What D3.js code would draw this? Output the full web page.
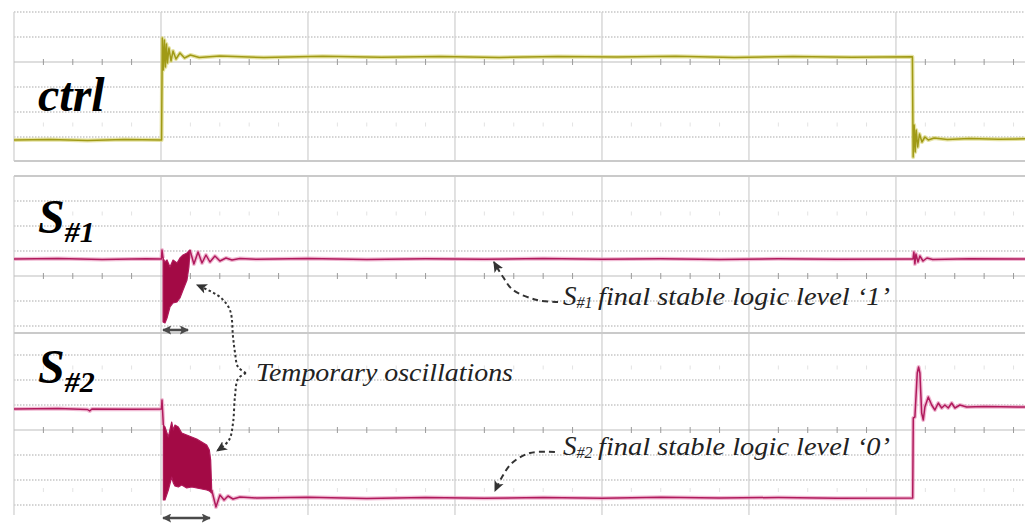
<!DOCTYPE html>
<html>
<head>
<meta charset="utf-8">
<script src="https://cdn.jsdelivr.net/npm/d3@7"></script>
<style>
  body { margin: 0; background: #fff; }
  svg { display: block; }
</style>
</head>
<body>
<div id="chart"></div>
<script>
// time: one screen division = 100 units, amplitude: 1 unit = 1 division
const timeGrid = [0, 100, 200, 300, 400, 500, 600];

const ctrlWave = [
  [0, -3.12], [25, -3.1], [50, -3.14], [75, -3.1], [100.4, -3.12],
  [100.9, 0.96], [101.6, -0.32], [102.3, 0.88], [103.0, -0.2], [103.7, 0.72], [104.4, -0.04],
  [105.4, 0.56], [106.8, 0.04], [108.2, 0.44], [110.2, 0.12], [112.9, 0.36], [116, 0.16],
  [120, 0.28], [126, 0.18], [140, 0.24], [170, 0.18], [210, 0.23], [250, 0.19], [290, 0.22],
  [330, 0.18], [370, 0.22], [410, 0.2], [450, 0.23], [490, 0.18], [530, 0.22], [570, 0.19],
  [611.2, 0.21],
  [611.7, -3.8], [612.4, -2.52], [613.1, -3.6], [613.8, -2.72], [614.8, -3.4], [616.0, -2.88],
  [617.7, -3.2], [619.7, -3.0], [622, -3.12], [626, -3.04], [635, -3.1], [650, -3.06],
  [670, -3.09], [687.8, -3.07]
];

const s1Wave = [
  [0, 0.68], [30, 0.7], [60, 0.66], [90, 0.69], [100.3, 0.68], [100.7, 1.04], [101.4, 0.72],
  [110, null],
  [119.7, 1.04], [122.4, 0.48], [125.2, 0.96], [127.9, 0.52], [130.6, 0.84], [133.3, 0.56],
  [136.7, 0.8], [140.1, 0.6], [144.2, 0.72], [148.3, 0.64], [153.7, 0.7], [165, 0.67],
  [200, 0.7], [240, 0.66], [280, 0.69], [320, 0.67], [360, 0.7], [400, 0.67], [440, 0.69],
  [480, 0.66], [520, 0.69], [560, 0.67], [611, 0.68],
  [611.6, 0.68], [612.2, 0.96], [612.9, 0.48], [613.6, 0.88], [615.0, 0.56], [616.3, 0.8],
  [618.4, 0.6], [621.1, 0.72], [625, 0.66], [650, 0.69], [687.8, 0.68]
];

// [time, upper envelope, lower envelope]
const s1Burst = [
  [101.4, 0.72, -1.84], [102.7, 0.56, -1.88], [104.1, 0.64, -1.68], [106.1, 0.36, -1.24],
  [108.2, 0.64, -1.08], [110.9, 0.52, -1.04], [112.9, 0.72, -0.88], [115.0, 0.84, -0.56],
  [117.7, 0.92, -0.16], [119.0, 1.0, 0.36], [119.7, 1.04, 0.96]
];

const s2Wave = [
  [0, 0.84], [30, 0.86], [50, 0.82], [51.5, 0.76], [53, 0.84], [80, 0.83], [100.3, 0.84],
  [100.7, 1.2], [101.6, 0.2],
  [120, null],
  [134.5, -2.4], [137.4, -3.08], [140.1, -2.6], [142.9, -2.8], [145.6, -2.64], [149.0, -2.76],
  [153.7, -2.68], [165, -2.72], [200, -2.69], [240, -2.74], [280, -2.7], [320, -2.73],
  [360, -2.7], [400, -2.73], [440, -2.69], [480, -2.72], [520, -2.7], [560, -2.73], [611.4, -2.72],
  [611.8, 0.48], [612.9, 0.52], [614.5, 2.28], [615.4, 2.52], [616.3, 2.28], [617.5, 0.68],
  [618.6, 0.4], [619.7, 0.92], [622.0, 1.32], [624.3, 1.0], [626.5, 0.8], [628.8, 1.08],
  [631.1, 0.88], [633.3, 1.0], [635.6, 0.88], [637.9, 1.08], [640.1, 0.88], [643.5, 1.0],
  [648.1, 0.92], [660, 0.94], [687.8, 0.92]
];

const s2Burst = [
  [101.6, 0.2, -2.8], [102.7, 0.12, -2.8], [105.0, -0.28, -2.4], [107.3, 0.32, -1.88],
  [108.4, 0, -2.12], [109.5, 0.2, -2.24], [111.8, 0.12, -2.28], [114.1, -0.12, -2.2],
  [117.5, -0.2, -2.32], [120.9, -0.28, -2.28], [124.3, -0.36, -2.32], [127.7, -0.48, -2.36],
  [131.1, -0.6, -2.4], [132.9, -0.8, -2.44], [133.8, -1.2, -2.48], [134.5, -2.4, -2.52]
];

// oscillation durations marked with double arrows: [start, end]
const burstSpans = [[101.4, 118.4], [101.4, 133.3]];

const width = 1025;
const height = 523;
const font = "'Liberation Serif', 'Times New Roman', serif";

const svg = d3.select("#chart").append("svg")
  .attr("width", width)
  .attr("height", height);

const x = d3.scaleLinear().domain([0, 687.8]).range([14, 1025]);

const panels = [
  { name: "ctrl", sub: "", top: 12, bottom: 161, zero: 62, rows: [2, 1, -1, -2, -3], ghost: [-2.5],
    topSolid: false, bottomSolid: true, labelY: 111 },
  { name: "S", sub: "#1", top: 176, bottom: 333, zero: 276, rows: [3, 2, 1, -1, -2], ghost: [2.5],
    topSolid: true, bottomSolid: true, labelY: 233 },
  { name: "S", sub: "#2", top: 333, bottom: 515, zero: 430, rows: [3, 2, 1, -1, -2, -3], ghost: [2.5, -2.4],
    topSolid: true, bottomSolid: false, labelY: 383 }
];
panels.forEach((p) => {
  p.y = d3.scaleLinear().domain([0, 1]).range([p.zero, p.zero - 25]);
});

const minorTicks = d3.range(0, 688, 20);

// grid
panels.forEach((p) => {
  const g = svg.append("g");

  g.selectAll(".row")
    .data(p.rows)
    .join("line")
    .attr("x1", x(0)).attr("x2", width)
    .attr("y1", (d) => p.y(d)).attr("y2", (d) => p.y(d))
    .attr("stroke", "#c6c6c6")
    .attr("stroke-width", 1.3)
    .attr("stroke-dasharray", "1.5,1.5");

  g.selectAll(".vline")
    .data(timeGrid)
    .join("line")
    .attr("x1", (d) => x(d)).attr("x2", (d) => x(d))
    .attr("y1", p.top).attr("y2", p.bottom)
    .attr("stroke", "#d2d2d2")
    .attr("stroke-width", 1.3);

  // centre line with minor ticks
  g.append("line")
    .attr("x1", x(0)).attr("x2", width)
    .attr("y1", p.y(0)).attr("y2", p.y(0))
    .attr("stroke", "#bdbdbd")
    .attr("stroke-width", 1.2);
  g.selectAll(".tick")
    .data(minorTicks.filter((t) => t % 100 !== 0))
    .join("line")
    .attr("x1", (d) => x(d)).attr("x2", (d) => x(d))
    .attr("y1", p.y(0) - 3).attr("y2", p.y(0) + 3)
    .attr("stroke", "#9a9a9a")
    .attr("stroke-width", 1);

  p.ghost.forEach((v) => {
    g.selectAll(null)
      .data(minorTicks.filter((t) => t % 100 !== 0))
      .join("line")
      .attr("x1", (d) => x(d)).attr("x2", (d) => x(d))
      .attr("y1", p.y(v) - 2).attr("y2", p.y(v) + 2)
      .attr("stroke", "#e3e3e3")
      .attr("stroke-width", 1);
  });

  if (p.topSolid) {
    g.append("line").attr("x1", x(0)).attr("x2", width)
      .attr("y1", p.top).attr("y2", p.top)
      .attr("stroke", "#cacaca").attr("stroke-width", 2);
  }
  if (p.bottomSolid) {
    g.append("line").attr("x1", x(0)).attr("x2", width)
      .attr("y1", p.bottom).attr("y2", p.bottom)
      .attr("stroke", "#cacaca").attr("stroke-width", 2);
  }
});

// signals
function drawWave(p, data, halo, core) {
  const line = d3.line()
    .defined((d) => d[1] !== null)
    .x((d) => x(d[0]))
    .y((d) => p.y(d[1]));
  svg.append("path").datum(data)
    .attr("fill", "none").attr("stroke", halo).attr("stroke-width", 4)
    .attr("stroke-linejoin", "round").attr("opacity", 0.75)
    .attr("d", line);
  svg.append("path").datum(data)
    .attr("fill", "none").attr("stroke", core).attr("stroke-width", 1.5)
    .attr("stroke-linejoin", "round")
    .attr("d", line);
}

function drawBurst(p, data) {
  const area = d3.area()
    .x((d) => x(d[0]))
    .y0((d) => p.y(d[2]))
    .y1((d) => p.y(d[1]));
  svg.append("path").datum(data)
    .attr("fill", "#a30a45")
    .attr("stroke", "#b0195a")
    .attr("stroke-width", 1.2)
    .attr("stroke-linejoin", "round")
    .attr("d", area);
}

drawWave(panels[0], ctrlWave, "#dcd884", "#a09a16");
drawWave(panels[1], s1Wave, "#eba3c4", "#b01a5c");
drawBurst(panels[1], s1Burst);
drawWave(panels[2], s2Wave, "#eba3c4", "#b01a5c");
drawBurst(panels[2], s2Burst);

// channel labels
panels.forEach((p) => {
  const t = svg.append("text")
    .attr("x", 38)
    .attr("y", p.labelY)
    .attr("font-family", font)
    .attr("font-style", "italic")
    .attr("font-weight", "bold")
    .attr("fill", "#000");
  t.append("tspan").attr("font-size", 48).text(p.name);
  if (p.sub) {
    t.append("tspan").attr("font-size", 30).attr("dy", 9).text(p.sub);
  }
});

// arrow markers
const defs = svg.append("defs");
defs.append("marker")
  .attr("id", "head")
  .attr("viewBox", "0 0 10 10")
  .attr("refX", 9).attr("refY", 5)
  .attr("markerWidth", 11).attr("markerHeight", 11)
  .attr("markerUnits", "userSpaceOnUse")
  .attr("orient", "auto-start-reverse")
  .append("path")
  .attr("d", "M0,0.5L10,5L0,9.5L2.5,5z")
  .attr("fill", "#333");
defs.append("marker")
  .attr("id", "span")
  .attr("viewBox", "0 0 10 10")
  .attr("refX", 9).attr("refY", 5)
  .attr("markerWidth", 9).attr("markerHeight", 9)
  .attr("markerUnits", "userSpaceOnUse")
  .attr("orient", "auto-start-reverse")
  .append("path")
  .attr("d", "M0,0L10,5L0,10L2,5z")
  .attr("fill", "#4a4a4a");

// duration arrows under the bursts
const spanRows = [panels[1].y(-2.16), panels[2].y(-3.52)];
burstSpans.forEach((s, i) => {
  svg.append("line")
    .attr("x1", x(s[0])).attr("x2", x(s[1]))
    .attr("y1", spanRows[i]).attr("y2", spanRows[i])
    .attr("stroke", "#4a4a4a").attr("stroke-width", 2.6)
    .attr("marker-start", "url(#span)")
    .attr("marker-end", "url(#span)");
});

// curved annotation arrows, points given as [panel, time, amplitude]
const curve = d3.line().curve(d3.curveCatmullRom.alpha(0.5));
function pt(d) { return [x(d[1]), panels[d[0]].y(d[2])]; }

const braceUp = [[2, 157.8, 2.28], [2, 152.4, 2.52], [2, 150.3, 3.12], [2, 149.0, 3.72],
  [1, 146.9, -1.36], [1, 140.1, -0.84], [1, 124.5, -0.36]];
const braceDown = [[2, 157.8, 2.28], [2, 152.4, 2.04], [2, 150.3, 1.32], [2, 149.0, 0.28],
  [2, 146.3, -0.4], [2, 138.1, -0.84]];
[braceUp, braceDown].forEach((b) => {
  svg.append("path")
    .attr("d", curve(b.map(pt)))
    .attr("fill", "none").attr("stroke", "#333")
    .attr("stroke-width", 2).attr("stroke-dasharray", "2.5,2.5")
    .attr("marker-end", "url(#head)");
});

const level1Arrow = [[1, 370.1, -1.04], [1, 355.8, -0.96], [1, 339.5, -0.56], [1, 332.7, -0.04], [1, 326.5, 0.56]];
const level0Arrow = [[2, 368.0, -0.88], [2, 351.0, -0.92], [2, 338.8, -1.32], [2, 332.0, -1.88], [2, 327.2, -2.44]];
[level1Arrow, level0Arrow].forEach((b) => {
  svg.append("path")
    .attr("d", curve(b.map(pt)))
    .attr("fill", "none").attr("stroke", "#333")
    .attr("stroke-width", 2).attr("stroke-dasharray", "6,4")
    .attr("marker-end", "url(#head)");
});

// annotation texts
svg.append("text")
  .attr("x", x(164.6)).attr("y", panels[2].y(1.96))
  .attr("font-family", font).attr("font-style", "italic")
  .attr("font-size", 26).attr("fill", "#222")
  .attr("textLength", 257).attr("lengthAdjust", "spacingAndGlyphs")
  .text("Temporary oscillations");

const levelNotes = [
  { panel: 1, v: -1.16, sub: "#1", text: "final stable logic level \u20181\u2019" },
  { panel: 2, v: -0.98, sub: "#2", text: "final stable logic level \u20180\u2019" }
];
levelNotes.forEach((n) => {
  const yb = panels[n.panel].y(n.v);
  const s = svg.append("text")
    .attr("x", x(373.5)).attr("y", yb)
    .attr("font-family", font).attr("font-style", "italic")
    .attr("fill", "#222");
  s.append("tspan").attr("font-size", 27).text("S");
  s.append("tspan").attr("font-size", 16).attr("dy", 3).text(n.sub);
  svg.append("text")
    .attr("x", x(397.3)).attr("y", yb)
    .attr("font-family", font).attr("font-style", "italic")
    .attr("font-size", 26).attr("fill", "#222")
    .attr("textLength", 292).attr("lengthAdjust", "spacingAndGlyphs")
    .text(n.text);
});
</script>
</body>
</html>
